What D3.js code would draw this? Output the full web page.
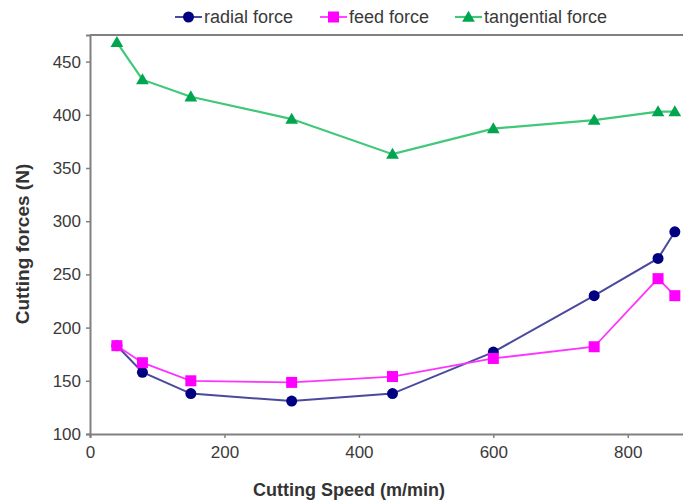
<!DOCTYPE html>
<html><head><meta charset="utf-8">
<script src="https://cdn.jsdelivr.net/npm/d3@7"></script>
<style>body{margin:0;background:#fff}svg{display:block}text{font-family:"Liberation Sans",Arial,sans-serif}</style>
</head><body><svg id="c" width="683" height="502"></svg>
<script>
const speeds = [40, 78, 150, 300, 450, 600, 750, 845, 870];
const radialForce = [183, 158, 138, 131, 138, 177, 230, 265, 290];
const feedForce = [183, 167, 150, 148.5, 154, 171, 182, 246, 230];
const tangentialForce = [468, 433, 417, 396, 363, 387, 395, 403, 403];
const xTicks = [0, 200, 400, 600, 800];
const yTicks = [100, 150, 200, 250, 300, 350, 400, 450];
const seriesNames = ["radial force", "feed force", "tangential force"];

const svg = d3.select("#c");
const x = d3.scaleLinear().domain([0, 900]).range([90, 695]);
const y = d3.scaleLinear().domain([100, 475]).range([434, 35]);
const axisCol = "#808080", textCol = "#3a3a3a";

// top border
svg.append("line").attr("x1", 90).attr("x2", 700).attr("y1", 35).attr("y2", 35)
  .attr("stroke", axisCol).attr("stroke-width", 2);

const gx = svg.append("g").attr("transform", "translate(0,434)")
  .call(d3.axisBottom(x).tickValues(xTicks).tickSize(4).tickPadding(8));
const gy = svg.append("g").attr("transform", "translate(90,0)")
  .call(d3.axisLeft(y).tickValues(yTicks).tickSize(4).tickPadding(5));
[gx, gy].forEach(g => {
  g.select(".domain").attr("stroke", axisCol).attr("stroke-width", 2);
  g.selectAll(".tick line").attr("stroke", axisCol).attr("stroke-width", 1.5);
  g.selectAll(".tick text").attr("fill", textCol).style("font-size", "17px");
});

svg.append("text").attr("x", 349).attr("y", 496).attr("text-anchor", "middle")
  .attr("fill", "#333").style("font-size", "18px").style("font-weight", "bold")
  .text("Cutting Speed (m/min)");
svg.append("text").attr("transform", "translate(29,244) rotate(-90)").attr("text-anchor", "middle")
  .attr("fill", "#333").style("font-size", "19px").style("font-weight", "bold")
  .text("Cutting forces (N)");

const series = [
  {name: seriesNames[0], vals: radialForce, line: "#4a4a9c", mark: "#000080", shape: "circle", lw: 2},
  {name: seriesNames[1], vals: feedForce, line: "#ff33ff", mark: "#ff00ff", shape: "square", lw: 1.8},
  {name: seriesNames[2], vals: tangentialForce, line: "#40c878", mark: "#00a550", shape: "triangle", lw: 2.2}
];
function marker(g, shape, col, cx, cy) {
  if (shape === "circle") g.append("circle").attr("cx", cx).attr("cy", cy).attr("r", 5.5).attr("fill", col);
  else if (shape === "square") g.append("rect").attr("x", cx - 5.5).attr("y", cy - 5.5).attr("width", 11).attr("height", 11).attr("fill", col);
  else g.append("path").attr("d", d3.symbol(d3.symbolTriangle, 70)()).attr("transform", `translate(${cx},${cy + 1})`).attr("fill", col);
}
const line = d3.line().x((d, i) => x(speeds[i])).y(d => y(d));
[series[2], series[0], series[1]].forEach(s => {
  svg.append("path").attr("d", line(s.vals)).attr("fill", "none").attr("stroke", s.line).attr("stroke-width", s.lw);
  const g = svg.append("g");
  s.vals.forEach((v, i) => marker(g, s.shape, s.mark, x(speeds[i]), y(v)));
});

// legend
const legX = [175, 320, 455];
series.forEach((s, i) => {
  const g = svg.append("g");
  g.append("line").attr("x1", legX[i]).attr("x2", legX[i] + 27).attr("y1", 17).attr("y2", 17)
    .attr("stroke", s.line).attr("stroke-width", s.lw);
  marker(g, s.shape, s.mark, legX[i] + 13.5, 17);
  g.append("text").attr("x", legX[i] + 29).attr("y", 23).attr("fill", textCol)
    .style("font-size", "18px").text(s.name);
});
</script></body></html>
